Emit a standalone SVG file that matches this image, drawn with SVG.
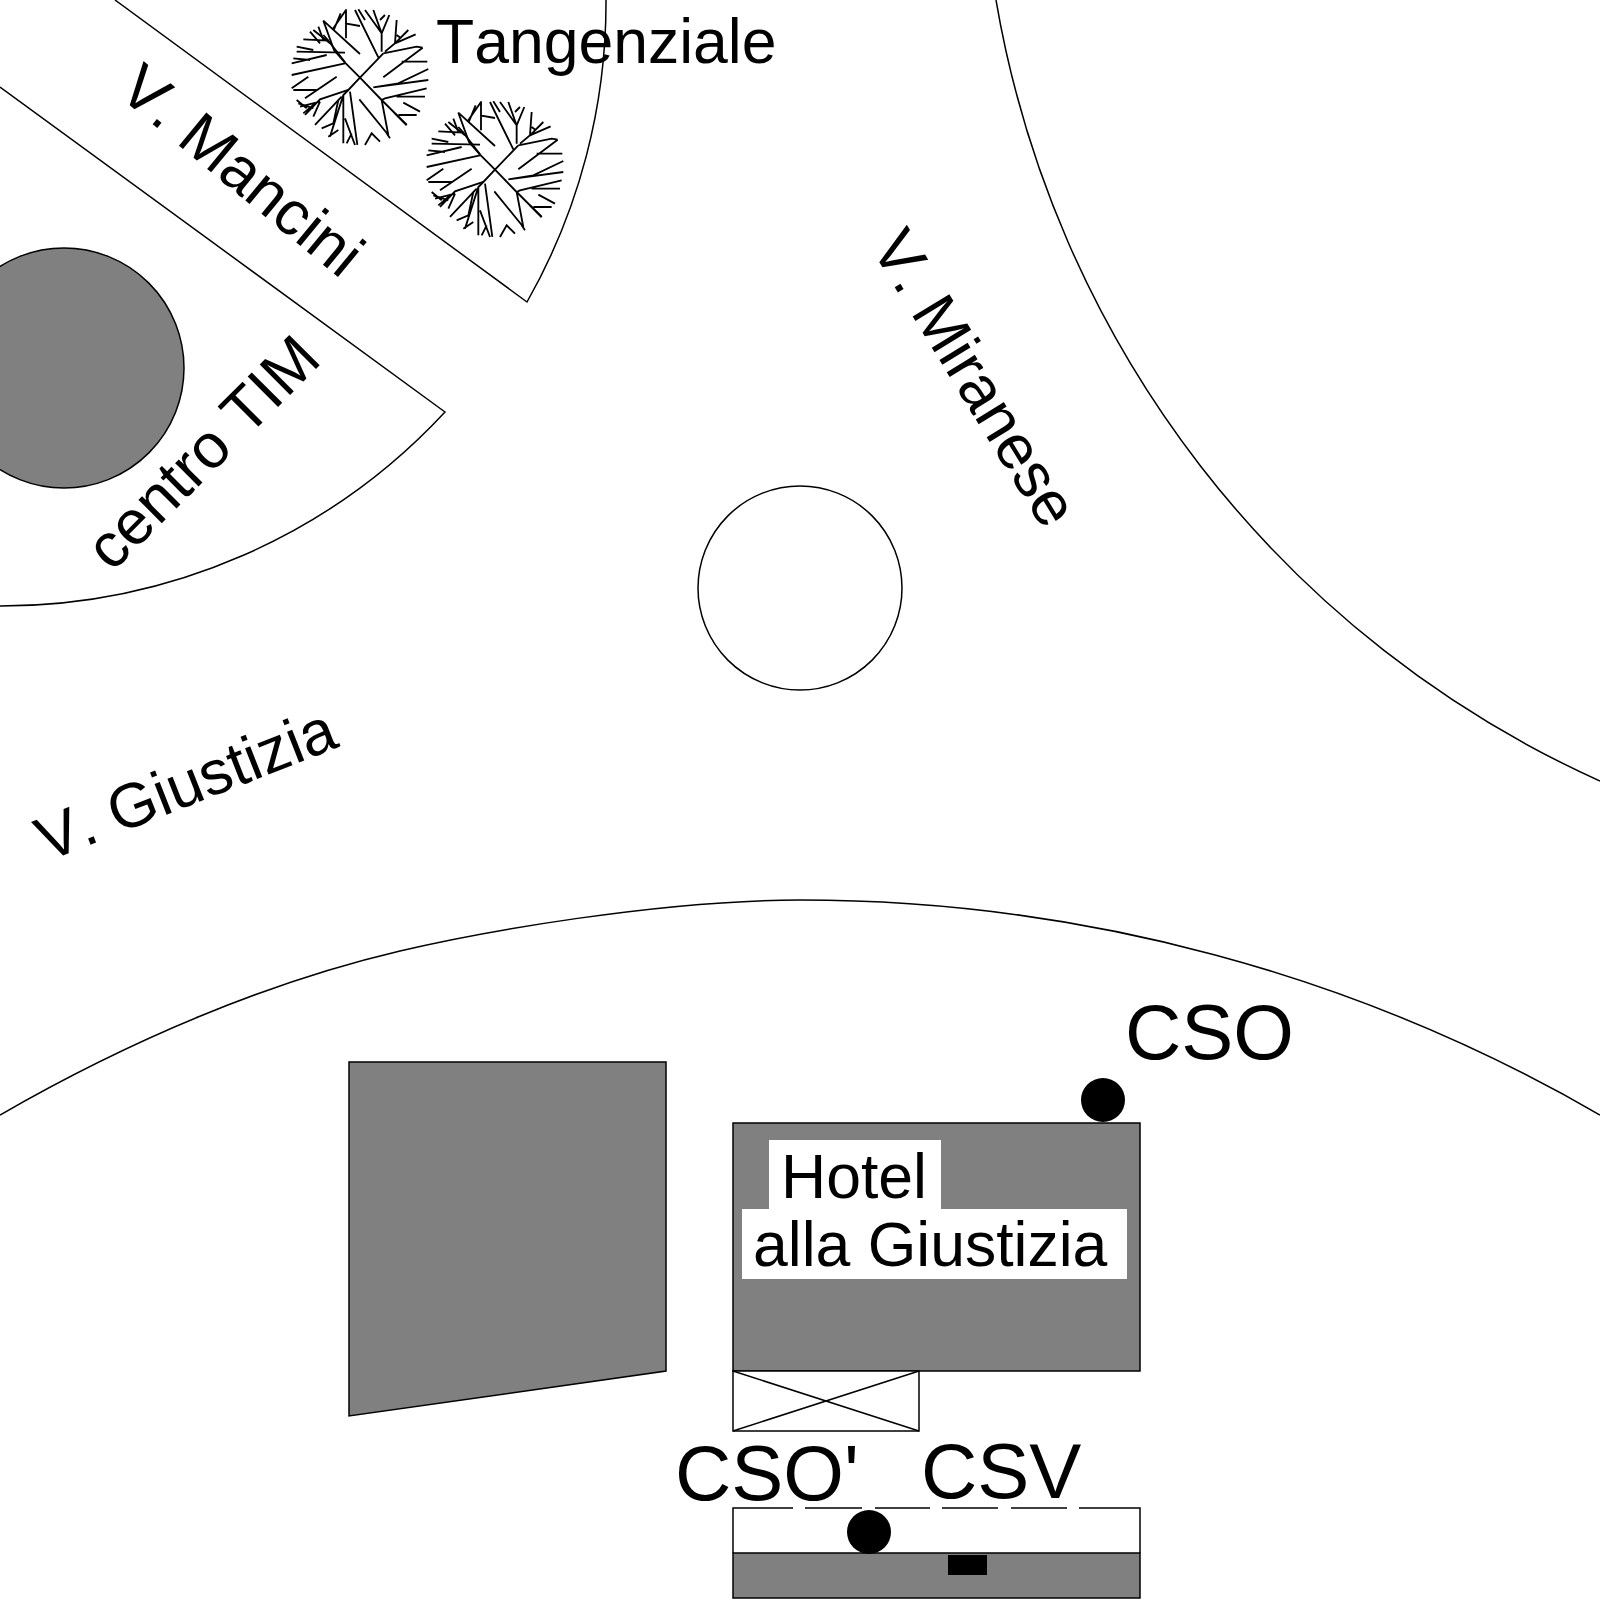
<svg xmlns="http://www.w3.org/2000/svg" width="1600" height="1600" viewBox="0 0 1600 1600">
<style>
.l{fill:none;stroke:#000;stroke-width:1.5}
.g{fill:#808080;stroke:#000;stroke-width:1.5}
.w{fill:#fff;stroke:#000;stroke-width:1.5}
.b{fill:#000}
.t{font-family:"Liberation Sans",Arial,sans-serif;fill:#000;font-kerning:none}
.s{font-size:62.500px}
.m{font-size:78px}
.tr{fill:none;stroke:#000;stroke-width:5.500}
</style>
<defs>
<g id="tree" class="tr">
<path d="M270 233L225 188L192 150L160 62L270 162M270 233L340 160M255 30L325 172M228 28L228 115M192 88L212 40M190 85L228 30M225 70L270 78M335 155L335 100L310 30M335 100L285 30M335 100L358 45M265 28L285 60M345 45L330 60M160 105L175 122M145 80L160 120"/>
<path d="M340 160L440 140L458 143M340 232L458 143M345 155L375 130L437 103M375 130L415 90M375 130L380 60M380 105L393 115M472 185H395M475 207L385 250L310 262M310 262L475 240M335 300L345 295L470 265M380 290H465M400 308L450 335M375 340L410 375M385 345L440 345"/>
<path d="M270 233L235 270L220 285L180 410M270 233L335 300L355 405M335 300L410 375M268 298L355 405M240 275L262 435M220 285V430M225 355L255 435M230 430L245 400M285 435L305 400L330 425M175 410L205 390M205 300L190 370L155 385M350 400L360 415"/>
<path d="M225 190L65 225M100 118L175 122L225 187M120 95L150 130M130 90L180 130M80 155L225 158M65 190L170 165M80 140L130 150M70 175L120 180M65 265L115 230M200 230L105 295M70 270H140M235 270L150 298L105 345M215 290L135 375M80 300L110 325M90 320L150 305M100 340L135 310M150 305L130 350M85 310L130 325"/>
</g>
</defs>
<rect width="1600" height="1600" fill="#fff"/>
<g id="roads">
<path class="l" d="M115 0L527 302A606 606 0 0 0 606 0"/>
<path class="l" d="M0 87L445 412A606 606 0 0 1 0 606"/>
<path class="l" d="M996 0A1050 1050 0 0 0 1600 781"/>
<path class="l" d="M0 1115C130 1040 268 982 400 951C480 932 660 900 800 900A1596 1596 0 0 1 1600 1115"/>
</g>
<g id="trees">
<use href="#tree" transform="translate(270 0) scale(.3333)"/>
<use href="#tree" transform="translate(405 92) scale(.3333)"/>
</g>
<g id="roundabout"><circle class="w" cx="800" cy="588" r="102"/></g>
<g id="tim-circle"><circle class="g" cx="64" cy="368" r="120"/></g>
<g id="building"><path class="g" d="M349 1062H666V1371L349 1416Z"/></g>
<g id="hotel">
<rect class="g" x="733" y="1123" width="407" height="248"/>
<rect x="769" y="1140" width="172" height="69" fill="#fff"/>
<rect x="742" y="1209" width="385" height="70" fill="#fff"/>
<text class="t s" x="781" y="1198">Hotel</text>
<text class="t s" x="753" y="1266">alla Giustizia</text>
</g>
<g id="entrance">
<rect class="w" x="733" y="1371" width="186" height="60"/>
<path class="l" d="M733 1371L919 1431M919 1371L733 1431"/>
</g>
<g id="bottom">
<rect x="733" y="1553" width="407" height="45" class="g"/>
<path class="l" d="M733 1553V1508H793M805 1508H862M875 1508H930M942 1508H998M1011 1508H1067M1079 1508H1140V1553"/>
<circle class="b" cx="869" cy="1532" r="22"/>
<rect class="b" x="948" y="1555" width="39" height="20"/>
</g>
<g id="cso"><circle class="b" cx="1103" cy="1100" r="22"/></g>
<g id="labels">
<text class="t s" x="436" y="63">Tangenziale</text>
<text class="t s" transform="translate(116 94) rotate(39.500)">V. Mancini</text>
<text class="t s" transform="translate(870 247) rotate(58.500)">V. Miranese</text>
<text class="t s" transform="translate(112 573) rotate(-45)">centro TIM</text>
<text class="t s" transform="translate(46.500 862) rotate(-21.500)">V. Giustizia</text>
<text class="t m" x="1125" y="1059">CSO</text>
<text class="t m" x="675" y="1500">CSO'</text>
<text class="t m" x="921" y="1498">CSV</text>
</g>
</svg>
